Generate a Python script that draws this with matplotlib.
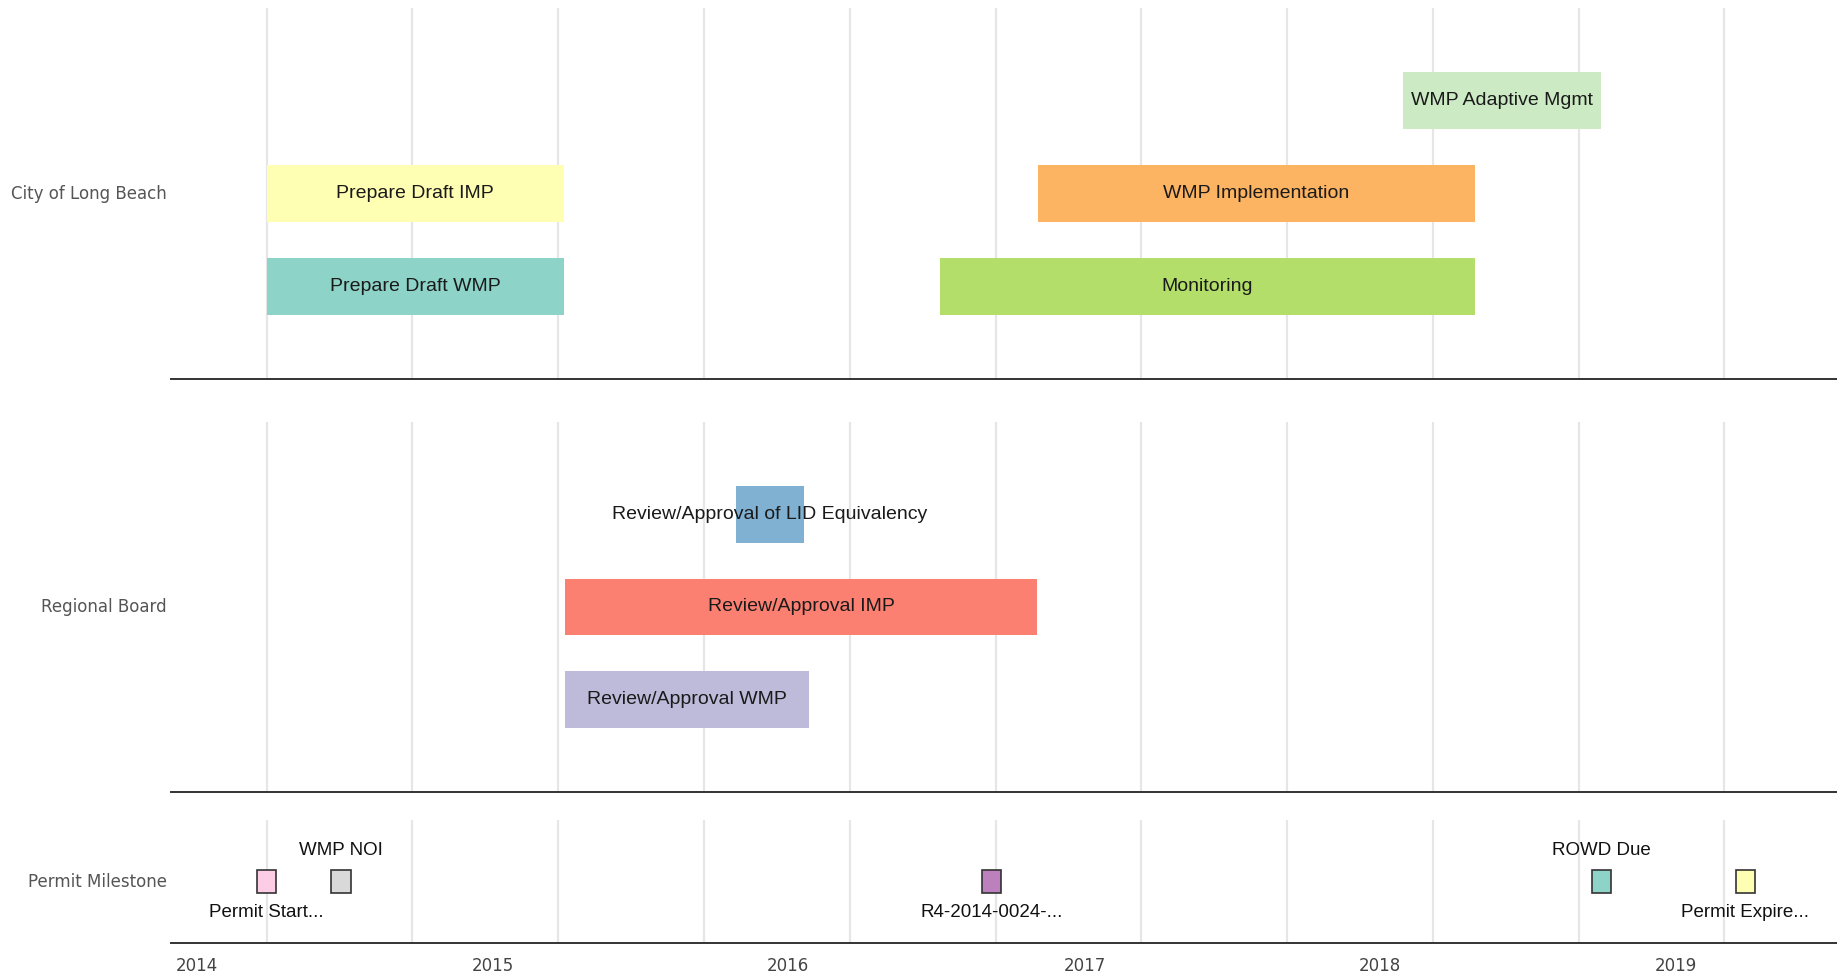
import matplotlib.pyplot as plt
import matplotlib.dates as mdates
from datetime import datetime, timedelta

# groups (one panel each)
groups = ['City of Long Beach', 'Regional Board', 'Permit Milestone']

# City of Long Beach tasks
city_tasks = ['Prepare Draft WMP', 'Prepare Draft IMP', 'Monitoring',
              'WMP Implementation', 'WMP Adaptive Mgmt']
city_start = ['2014-03-28', '2014-03-28', '2016-07-06', '2016-11-04', '2018-01-29']
city_end = ['2015-03-30', '2015-03-30', '2018-04-28', '2018-04-28', '2018-10-01']
city_lane = [0, 1, 0, 1, 2]
city_colors = ['#8dd3c7', '#ffffb3', '#b3de69', '#fdb462', '#ccebc5']

# Regional Board tasks
board_tasks = ['Review/Approval WMP', 'Review/Approval IMP',
               'Review/Approval of LID Equivalency']
board_start = ['2015-04-01', '2015-04-01', '2015-10-28']
board_end = ['2016-01-27', '2016-11-03', '2016-01-21']
board_lane = [0, 1, 2]
board_colors = ['#bebada', '#fb8072', '#80b1d3']

# Permit milestones
milestones = ['Permit Start...', 'WMP NOI', 'R4-2014-0024-...', 'ROWD Due', 'Permit Expire...']
milestone_dates = ['2014-03-28', '2014-06-28', '2016-09-08', '2018-10-01', '2019-03-28']
milestone_colors = ['#fccde5', '#d9d9d9', '#bc80bd', '#8dd3c7', '#ffffb3']
milestone_above = [False, True, False, True, False]

years = [2014, 2015, 2016, 2017, 2018, 2019]


def d(s):
    return mdates.date2num(datetime.strptime(s, '%Y-%m-%d'))


x_min = d('2013-11-30')
x_max = d('2019-07-19')

fig = plt.figure(figsize=(18.37, 9.72), dpi=100)
ax_city = fig.add_axes([0.0931, 0.610, 0.9069, 0.3817])
ax_board = fig.add_axes([0.0931, 0.1852, 0.9069, 0.3807])
ax_mile = fig.add_axes([0.0931, 0.0298, 0.9069, 0.1265])

# grid every 180 days from permit start
grid = []
g = datetime(2014, 3, 28)
while mdates.date2num(g) < x_max:
    grid.append(mdates.date2num(g))
    g += timedelta(days=180)

for ax in (ax_city, ax_board, ax_mile):
    ax.set_xlim(x_min, x_max)
    for gx in grid:
        ax.axvline(gx, color='#e6e6e6', lw=1.6, zorder=0)
    for s in ('top', 'left', 'right'):
        ax.spines[s].set_visible(False)
    ax.spines['bottom'].set_color('#333333')
    ax.spines['bottom'].set_linewidth(1.4)
    ax.tick_params(axis='y', length=0, pad=3, labelsize=12, labelcolor='#555555')
    ax.tick_params(axis='x', length=0)
    ax.set_xticks([])

bar_font = dict(family='Liberation Sans', size=14, color='#1a1a1a')


def draw_lanes(ax, tasks, starts, ends, lanes, colors, label):
    s = [d(v) for v in starts]
    e = [d(v) for v in ends]
    w = [b - a for a, b in zip(s, e)]
    ax.barh(lanes, w, left=s, height=0.615, color=colors, zorder=2)
    for t, a, b, ln in zip(tasks, s, e, lanes):
        ax.text((a + b) / 2, ln, t, ha='center', va='center', zorder=3, **bar_font)
    ax.set_ylim(-1, 3)
    ax.set_yticks([1])
    ax.set_yticklabels([label], family='DejaVu Sans', va='center')


draw_lanes(ax_city, city_tasks, city_start, city_end, city_lane, city_colors, groups[0])
draw_lanes(ax_board, board_tasks, board_start, board_end, board_lane, board_colors, groups[1])

# milestones
mx = [d(v) for v in milestone_dates]
ax_mile.bar(mx, 0.36, width=24, bottom=-0.18, color=milestone_colors,
            edgecolor='#333333', linewidth=1.2, zorder=2)
for name, x, up in zip(milestones, mx, milestone_above):
    ax_mile.text(x, 0.51 if up else -0.51, name, ha='center', va='center',
                 family='Liberation Sans', size=13.5, color='#111111', zorder=3)
ax_mile.set_ylim(-1, 1)
ax_mile.set_yticks([0])
ax_mile.set_yticklabels([groups[2]], family='DejaVu Sans', va='center')

ax_mile.set_xticks([d('%d-01-01' % y) for y in years])
ax_mile.set_xticklabels([str(y) for y in years], family='DejaVu Sans')
ax_mile.tick_params(axis='x', length=0, pad=10, labelsize=12, labelcolor='#444444')

fig.savefig('out.png', dpi=100)
